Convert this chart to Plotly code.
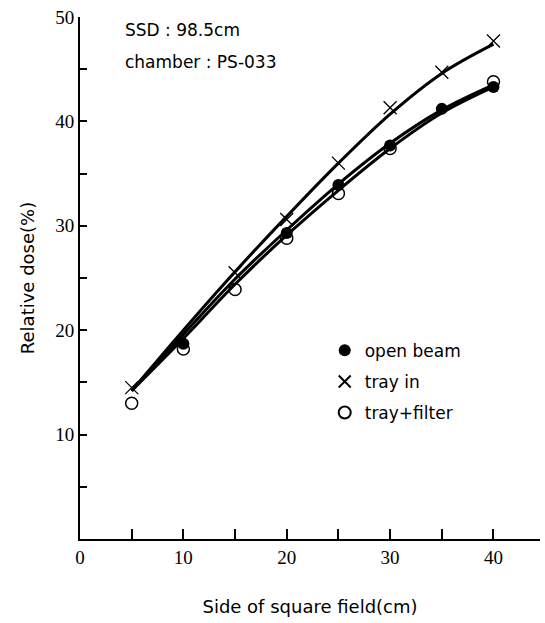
import plotly.graph_objects as go

# Measured points
x_open = [10, 20, 25, 30, 35, 40]
y_open = [18.7, 29.3, 33.9, 37.7, 41.2, 43.3]

x_tray = [5, 15, 20, 25, 30, 35, 40]
y_tray = [14.5, 25.5, 30.6, 36.0, 41.3, 44.7, 47.7]

x_filter = [5, 10, 15, 20, 25, 30, 40]
y_filter = [13.0, 18.2, 23.9, 28.8, 33.1, 37.4, 43.8]

# Smooth fitted curves
x_fit = [5, 10, 15, 20, 25, 30, 35, 40]
fit_tray = [14.2, 20.0, 25.6, 30.9, 36.0, 40.7, 44.6, 47.4]
fit_open = [14.2, 19.6, 24.9, 29.6, 34.0, 37.9, 41.1, 43.5]
fit_filter = [14.2, 19.2, 24.4, 29.1, 33.4, 37.4, 40.8, 43.3]

x_ticks = [0, 5, 10, 15, 20, 25, 30, 35, 40]
x_ticktext = ["0", "", "10", "", "20", "", "30", "", "40"]
y_ticks = [5, 10, 15, 20, 25, 30, 35, 40, 45, 50]
y_ticktext = ["", "10", "", "20", "", "30", "", "40", "", "50"]

TEXT_FONT = "DejaVu Sans"
NUM_FONT = "Liberation Serif"

fig = go.Figure()

for fy in (fit_tray, fit_open, fit_filter):
    fig.add_trace(go.Scatter(x=x_fit, y=fy, mode="lines", line=dict(color="black", width=3, shape="spline"),
                             showlegend=False, hoverinfo="skip"))

fig.add_trace(go.Scatter(x=x_open, y=y_open, mode="markers", name="open beam", legendgroup="a",
                         marker=dict(symbol="circle", size=12, color="black")))
fig.add_trace(go.Scatter(x=x_tray, y=y_tray, mode="markers", name="tray in", legendgroup="b",
                         marker=dict(symbol="x-thin-open", size=13, color="black", line=dict(width=1.3, color="black"))))
fig.add_trace(go.Scatter(x=x_filter, y=y_filter, mode="markers", name="tray+filter", legendgroup="c",
                         marker=dict(symbol="circle-open", size=12, color="black", line=dict(width=1.5, color="black"))))

fig.update_layout(
    width=545, height=623,
    margin=dict(l=80, r=5, t=17, b=84),
    paper_bgcolor="white", plot_bgcolor="white",
    font=dict(family=TEXT_FONT, color="black", size=16),
    showlegend=True,
    legend=dict(x=0.532, y=0.395, xanchor="left", yanchor="top", bgcolor="rgba(0,0,0,0)",
                font=dict(family=TEXT_FONT, size=17, color="black"), itemsizing="constant",
                tracegroupgap=6, traceorder="grouped"),
    xaxis=dict(range=[0, 44.5], tickvals=x_ticks, ticktext=x_ticktext, ticks="inside", ticklen=10,
               tickwidth=2, tickcolor="black", showline=True, linecolor="black", linewidth=2,
               showgrid=False, zeroline=False, tickfont=dict(family=NUM_FONT, size=19),
               title=dict(text="Side of square field(cm)", font=dict(family=TEXT_FONT, size=18), standoff=34)),
    yaxis=dict(range=[0, 50], tickvals=y_ticks, ticktext=y_ticktext, ticks="inside", ticklen=7,
               tickwidth=2, tickcolor="black", showline=True, linecolor="black", linewidth=2,
               showgrid=False, zeroline=False, tickfont=dict(family=NUM_FONT, size=19),
               title=dict(text="Relative dose(%)", font=dict(family=TEXT_FONT, size=18), standoff=16)),
)

fig.add_annotation(xref="paper", yref="paper", x=0.093, y=0.975, xanchor="left", yanchor="middle",
                   text="SSD : 98.5cm", showarrow=False, font=dict(family=TEXT_FONT, size=17))
fig.add_annotation(xref="paper", yref="paper", x=0.093, y=0.913, xanchor="left", yanchor="middle",
                   text="chamber : PS-033", showarrow=False, font=dict(family=TEXT_FONT, size=17))

fig.write_html("out.html")
